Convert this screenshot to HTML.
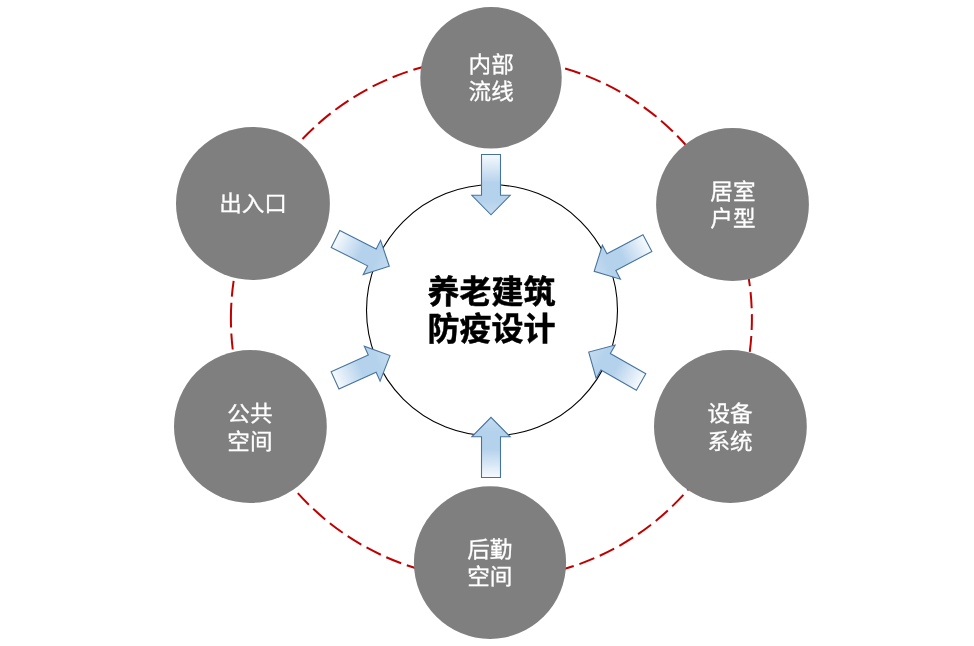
<!DOCTYPE html>
<html lang="zh-CN">
<head>
<meta charset="utf-8">
<title>养老建筑防疫设计</title>
<style>
html,body{margin:0;padding:0;background:#fff;}
body{width:974px;height:646px;overflow:hidden;}
svg{display:block;will-change:transform;}
text{font-family:"Liberation Sans","Noto Sans CJK SC",sans-serif;}
.arw{fill:url(#ag);stroke:#44739f;stroke-width:1.08px;stroke-linejoin:miter;}
.lbl{font-size:22px;fill:#fff;stroke:#fff;stroke-width:0.3px;text-anchor:middle;}
.ttl{font-size:32px;font-weight:700;fill:#000;stroke:#000;stroke-width:0.5px;text-anchor:middle;}
</style>
</head>
<body>
<svg width="974" height="646" viewBox="0 0 974 646" role="img" aria-label="养老建筑防疫设计">
<defs>
<linearGradient id="ag" x1="0" y1="0" x2="1" y2="0">
<stop offset="0" stop-color="#f7fafd"/>
<stop offset="0.47" stop-color="#b5d2ec"/>
<stop offset="0.76" stop-color="#b5d2ec"/>
<stop offset="1" stop-color="#c6dcf0"/>
</linearGradient>
</defs>
<rect width="974" height="646" fill="#fff"/>
<path d="M230.9,318.6 A260.5,260.8 0 1 1 751.9,318.6 A260.5,260.8 0 1 1 230.9,318.6 Z" fill="none" stroke="#c00000" stroke-width="2" stroke-dasharray="16 6" stroke-dashoffset="0"/>
<circle cx="492" cy="310.3" r="125.5" fill="#fff" stroke="#000" stroke-width="1.1"/>
<ellipse cx="491" cy="77.8" rx="70.7" ry="70.7" fill="#7f7f7f"/>
<ellipse cx="732.5" cy="204.5" rx="76.4" ry="76.45" fill="#7f7f7f"/>
<ellipse cx="730.4" cy="426.45" rx="76.4" ry="76.5" fill="#7f7f7f"/>
<ellipse cx="490" cy="562.6" rx="76.1" ry="76.3" fill="#7f7f7f"/>
<ellipse cx="250.4" cy="426.45" rx="76.4" ry="76.5" fill="#7f7f7f"/>
<ellipse cx="252.95" cy="203.5" rx="76.95" ry="76.5" fill="#7f7f7f"/>
<polygon class="arw" points="-30.15,-9.5 10.65,-9.5 10.65,-19.2 30.15,0 10.65,19.2 10.65,9.5 -30.15,9.5" transform="translate(491 184.65) rotate(90)"/>
<polygon class="arw" points="-30.15,-9.5 10.65,-9.5 10.65,-19.2 30.15,0 10.65,19.2 10.65,9.5 -30.15,9.5" transform="translate(491 447.4) rotate(-90)"/>
<polygon class="arw" points="-30.15,-9.5 10.65,-9.5 10.65,-19.2 30.15,0 10.65,19.2 10.65,9.5 -30.15,9.5" transform="translate(362.4 252.6) rotate(26.9)"/>
<polygon class="arw" points="-30.15,-9.5 10.65,-9.5 10.65,-19.2 30.15,0 10.65,19.2 10.65,9.5 -30.15,9.5" transform="translate(620.8 257.2) rotate(152)"/>
<polygon class="arw" points="-30.15,-9.5 10.65,-9.5 10.65,-19.2 30.15,0 10.65,19.2 10.65,9.5 -30.15,9.5" transform="translate(362.5 368) rotate(-24.3)"/>
<polygon class="arw" points="-30.15,-9.5 10.65,-9.5 10.65,-19.2 30.15,0 10.65,19.2 10.65,9.5 -30.15,9.5" transform="translate(614.9 367) rotate(209.7)"/>
<text class="lbl" transform="translate(491.2 72) scale(1.027 0.972)">内部</text>
<text class="lbl" transform="translate(491.2 99) scale(1.027 0.972)">流线</text>
<text class="lbl" transform="translate(732.9 199) scale(1.027 0.972)">居室</text>
<text class="lbl" transform="translate(732.9 226) scale(1.027 0.972)">户型</text>
<text class="lbl" transform="translate(730.1 421) scale(1.027 0.972)">设备</text>
<text class="lbl" transform="translate(730.1 449) scale(1.027 0.972)">系统</text>
<text class="lbl" transform="translate(489.8 557) scale(1.027 0.972)">后勤</text>
<text class="lbl" transform="translate(489.8 584) scale(1.027 0.972)">空间</text>
<text class="lbl" transform="translate(249.9 421) scale(1.027 0.972)">公共</text>
<text class="lbl" transform="translate(249.9 449) scale(1.027 0.972)">空间</text>
<text class="lbl" transform="translate(253 211) scale(1.027 0.972)">出入口</text>
<text class="ttl" x="491.4" y="303">养老建筑</text>
<text class="ttl" x="491.4" y="340">防疫设计</text>
</svg>
</body>
</html>
